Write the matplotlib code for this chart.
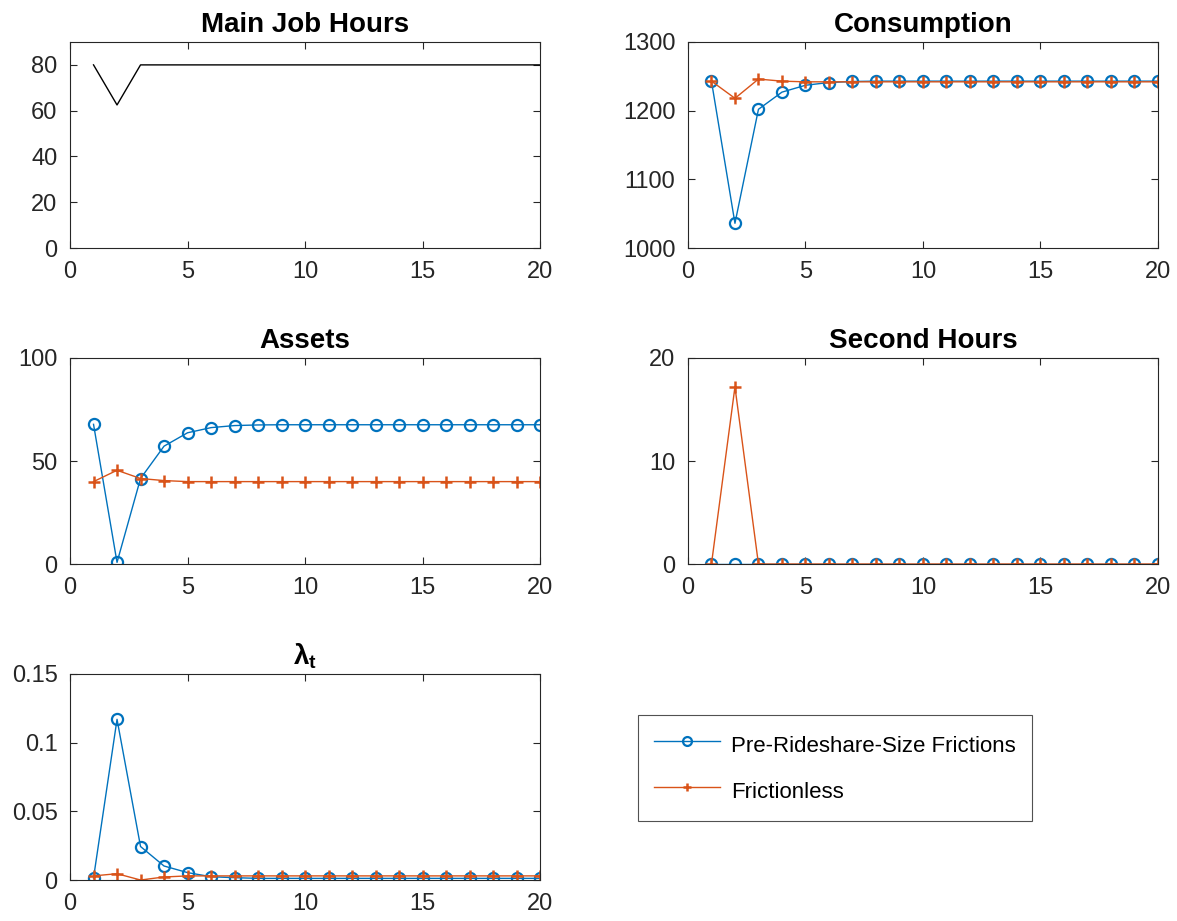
import numpy as np
import matplotlib
matplotlib.use("Agg")
from matplotlib import pyplot as plt

periods = np.arange(1, 21)

main_hours = [80, 62.5] + [80] * 18

cons_fric = [1243, 1036, 1202, 1227, 1237, 1241, 1242.5] + [1243] * 13
cons_free = [1243, 1218, 1246, 1243, 1242] + [1242] * 15

assets_fric = [67.8, 0.8, 41.5, 57.2, 63.7, 66.2, 67.2, 67.5] + [67.6] * 12
assets_free = [40, 45.5, 41.5, 40.5] + [40] * 16

second_fric = [0] * 20
second_free = [0, 17.2] + [0] * 18

lam_fric = [0.0015, 0.117, 0.0244, 0.0102, 0.0054, 0.0024, 0.0017] + [0.0012] * 13
lam_free = [0.003, 0.0046, 0.0, 0.0022] + [0.003] * 16

blue = "#0072BD"
orange = "#D95319"

plt.rcParams['font.family'] = ['Liberation Sans', 'DejaVu Sans']
plt.rcParams['mathtext.fontset'] = 'custom'
plt.rcParams['mathtext.bf'] = 'Liberation Sans:bold'
plt.rcParams['mathtext.rm'] = 'Liberation Sans'
plt.rcParams['mathtext.it'] = 'Liberation Sans:italic'

fig = plt.figure(figsize=(11.77, 9.21), dpi=100)

W = 0.3993
H = 0.2237
lefts = [0.0595, 0.5845]
bottoms = [0.7307, 0.3876, 0.0445]


def style(ax, title, ylim, yticks, ylabels=None):
    ax.set_xlim(0, 20)
    ax.set_xticks([0, 5, 10, 15, 20])
    ax.set_ylim(*ylim)
    ax.set_yticks(yticks)
    if ylabels is not None:
        ax.set_yticklabels(ylabels)
    ax.tick_params(direction='in', length=5, width=0.8, labelsize=17,
                   top=True, right=True, colors='#262626', pad=9)
    for s in ax.spines.values():
        s.set_color('#262626')
        s.set_linewidth(0.8)
    ax.set_title(title, fontsize=20, fontweight='bold', pad=7)


def two_lines(ax, a, b):
    ax.plot(periods, a, '-o', color=blue, lw=1, ms=8, mew=1.6,
            mfc='none', label='Pre-Rideshare-Size Frictions')
    ax.plot(periods, b, '-+', color=orange, lw=1, ms=8, mew=1.8,
            label='Frictionless')


ax1 = fig.add_axes([lefts[0], bottoms[0], W, H])
ax1.plot(periods, main_hours, color='black', lw=1)
style(ax1, 'Main Job Hours', (0, 90), [0, 20, 40, 60, 80])

ax2 = fig.add_axes([lefts[1], bottoms[0], W, H])
two_lines(ax2, cons_fric, cons_free)
style(ax2, 'Consumption', (1000, 1300), [1000, 1100, 1200, 1300])

ax3 = fig.add_axes([lefts[0], bottoms[1], W, H])
two_lines(ax3, assets_fric, assets_free)
style(ax3, 'Assets', (0, 100), [0, 50, 100])

ax4 = fig.add_axes([lefts[1], bottoms[1], W, H])
two_lines(ax4, second_fric, second_free)
style(ax4, 'Second Hours', (0, 20), [0, 10, 20])

ax5 = fig.add_axes([lefts[0], bottoms[2], W, H])
two_lines(ax5, lam_fric, lam_free)
style(ax5, r'$\mathbf{\lambda_t}$', (0, 0.15), [0, 0.05, 0.1, 0.15],
      ['0', '0.05', '0.1', '0.15'])

handles, labels = ax5.get_legend_handles_labels()
leg = fig.legend(handles, labels, loc='upper left',
                 bbox_to_anchor=(638 / 1177, 1 - 715 / 921),
                 borderaxespad=0, fontsize=16, frameon=True, fancybox=False,
                 handlelength=3.0, handleheight=1.6, borderpad=0.7,
                 labelspacing=0.78, handletextpad=0.5, markerscale=0.8)
leg.get_frame().set_edgecolor('#262626')
leg.get_frame().set_linewidth(0.8)

fig.savefig('out.png', dpi=100)
